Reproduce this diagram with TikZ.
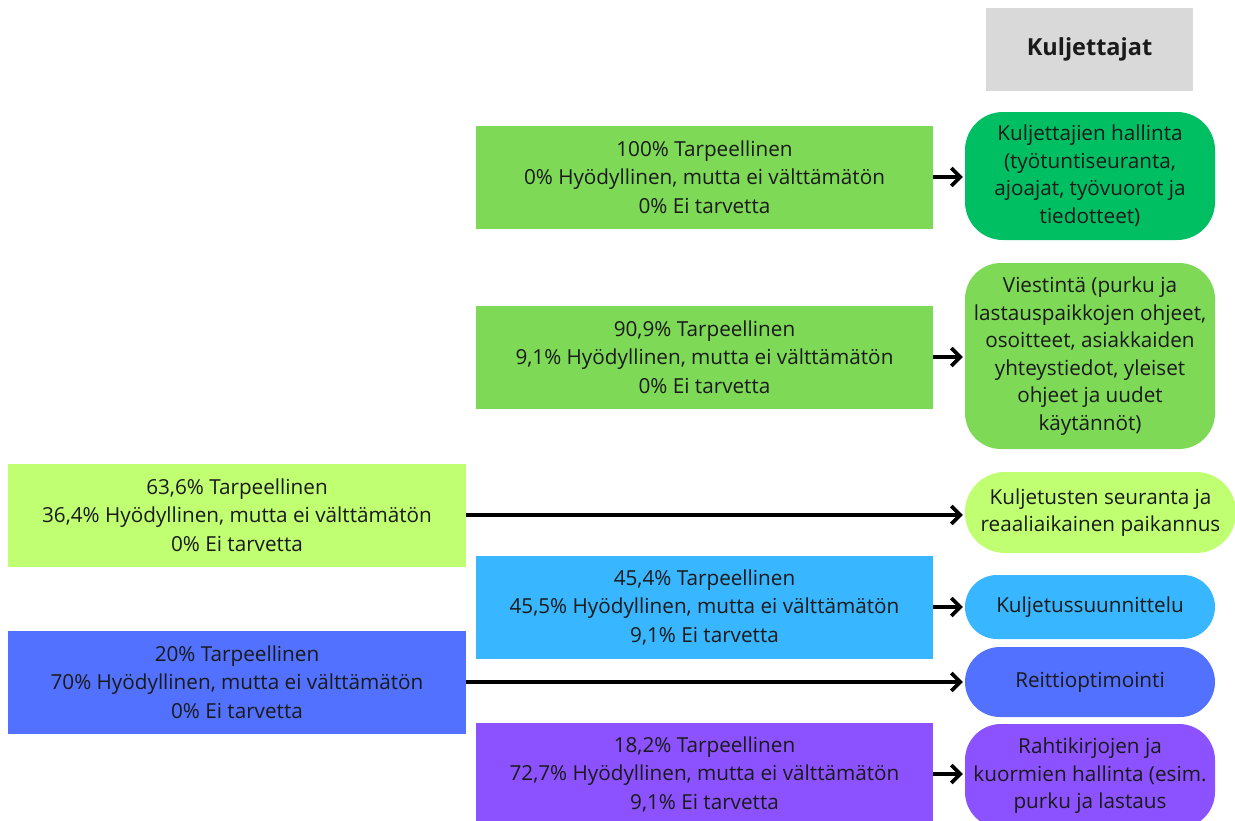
\documentclass[tikz,border=0pt]{standalone}
\usepackage{fontspec}
\setmainfont{Open Sans}
\usetikzlibrary{arrows.meta}
\definecolor{gbox}{HTML}{7ED957}
\definecolor{dgreen}{HTML}{00BF63}
\definecolor{lgreen}{HTML}{C1FF72}
\definecolor{cyanb}{HTML}{38B6FF}
\definecolor{blueb}{HTML}{5271FF}
\definecolor{purpb}{HTML}{8C52FF}
\definecolor{grayb}{HTML}{D9D9D9}
\definecolor{txt}{HTML}{1A1A1A}
\tikzset{
  pct/.style={rectangle, inner sep=0pt, minimum width=457pt, minimum height=103pt, align=center, text=txt, font=\fontsize{20.7}{28.5}\selectfont},
  item/.style={rectangle, inner sep=0pt, minimum width=250pt, align=center, text=txt, font=\fontsize{20.7}{27.5}\selectfont},
  arr/.style={-{Straight Barb[length=9pt,width=18pt]}, line width=3.6pt, black, shorten >=2pt},
}
\begin{document}
\begin{tikzpicture}[x=1pt,y=-1pt]
\useasboundingbox (0,0) rectangle (1235,820);
% header
\node[rectangle, fill=grayb, minimum width=207pt, minimum height=83pt, inner sep=0pt, text=txt, font=\fontsize{23.5}{28}\selectfont\bfseries] (hdr) at (1089.5,49.5) {Kuljettajat};
% percentage boxes
\node[pct, fill=gbox] (b1) at (704.5,177) {100\% Tarpeellinen\\0\% Hyödyllinen, mutta ei välttämätön\\0\% Ei tarvetta};
\node[pct, fill=gbox] (b2) at (704.5,357) {90,9\% Tarpeellinen\\9,1\% Hyödyllinen, mutta ei välttämätön\\0\% Ei tarvetta};
\node[pct, fill=lgreen, minimum width=458pt] (b3) at (237,515) {63,6\% Tarpeellinen\\36,4\% Hyödyllinen, mutta ei välttämätön\\0\% Ei tarvetta};
\node[pct, fill=cyanb] (b4) at (704.5,607) {45,4\% Tarpeellinen\\45,5\% Hyödyllinen, mutta ei välttämätön\\9,1\% Ei tarvetta};
\node[pct, fill=blueb, minimum width=458pt] (b5) at (237,682) {20\% Tarpeellinen\\70\% Hyödyllinen, mutta ei välttämätön\\0\% Ei tarvetta};
\node[pct, fill=purpb] (b6) at (704.5,774) {18,2\% Tarpeellinen\\72,7\% Hyödyllinen, mutta ei välttämätön\\9,1\% Ei tarvetta};
% item boxes
\node[item, fill=dgreen, minimum height=128pt, rounded corners=38pt] (r1) at (1090,176) {Kuljettajien hallinta\\(työtuntiseuranta,\\ajoajat, työvuorot ja\\tiedotteet)};
\node[item, fill=gbox, minimum height=186pt, rounded corners=36pt] (r2) at (1090,356) {Viestintä (purku ja\\lastauspaikkojen ohjeet,\\osoitteet, asiakkaiden\\yhteystiedot, yleiset\\ohjeet ja uudet\\käytännöt)};
\node[item, fill=lgreen, minimum width=271pt, minimum height=81pt, rounded corners=40pt] (r3) at (1100.5,512.5) {Kuljetusten seuranta ja\\reaaliaikainen paikannus};
\node[item, fill=cyanb, minimum height=64pt, rounded corners=32pt] (r4) at (1090,607) {Kuljetussuunnittelu};
\node[item, fill=blueb, minimum height=70pt, rounded corners=35pt] (r5) at (1090,682) {Reittioptimointi};
\node[item, fill=purpb, minimum height=104pt, rounded corners=36pt] (r6) at (1090,776) {Rahtikirjojen ja\\kuormien hallinta (esim.\\purku ja lastaus};
% arrows
\draw[arr] (b1.east) -- (b1.east -| r1.west);
\draw[arr] (b2.east) -- (b2.east -| r2.west);
\draw[arr] (b3.east) -- (b3.east -| r3.west);
\draw[arr] (b4.east) -- (b4.east -| r4.west);
\draw[arr] (b5.east) -- (b5.east -| r5.west);
\draw[arr] (b6.east) -- (b6.east -| r6.west);
\end{tikzpicture}
\end{document}
